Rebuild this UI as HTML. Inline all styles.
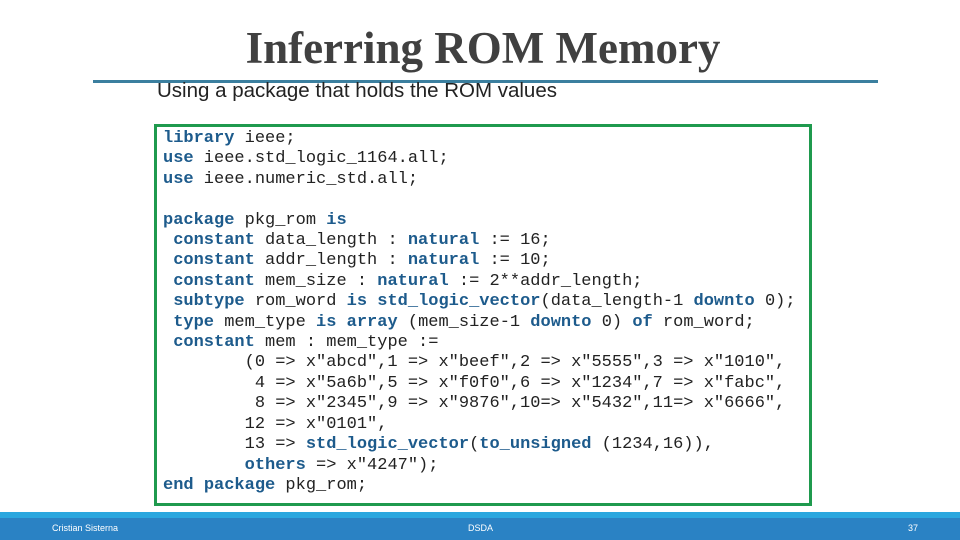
<!DOCTYPE html>
<html><head><meta charset="utf-8"><style>
body{margin:0;width:960px;height:540px;position:relative;background:#fff;overflow:hidden;font-family:"Liberation Sans",sans-serif}
.t{position:absolute;left:0;width:966px;top:20px;text-align:center;font:bold 45px "Liberation Serif",serif;color:#404040;line-height:56px}
.ln{position:absolute;left:93px;width:785px;top:80px;height:3px;background:#3b7f9f}
.sub{position:absolute;left:157px;top:78px;font-size:20.5px;color:#222;line-height:26px}
.box{position:absolute;left:154px;top:124px;width:652px;height:376px;border:3px solid #1f9a4e}
pre{position:absolute;left:163px;top:129px;margin:0;font:17px/20.4px "Liberation Mono",monospace;color:#222}
b{color:#1d5b8c}
.f1{position:absolute;left:0;top:512px;width:960px;height:6px;background:#2aa7df}
.f2{position:absolute;left:0;top:518px;width:960px;height:22px;background:#2a82c4;color:#fff;font-size:9px}
.f2 span{position:absolute;top:5px}
</style></head><body>
<div class="t">Inferring ROM Memory</div>
<div class="ln"></div>
<div class="sub">Using a package that holds the ROM values</div>
<div class="box"></div>
<pre><b>library</b> ieee;
<b>use</b> ieee.std_logic_1164.all;
<b>use</b> ieee.numeric_std.all;

<b>package</b> pkg_rom <b>is</b>
 <b>constant</b> data_length : <b>natural</b> := 16;
 <b>constant</b> addr_length : <b>natural</b> := 10;
 <b>constant</b> mem_size : <b>natural</b> := 2**addr_length;
 <b>subtype</b> rom_word <b>is</b> <b>std_logic_vector</b>(data_length-1 <b>downto</b> 0);
 <b>type</b> mem_type <b>is</b> <b>array</b> (mem_size-1 <b>downto</b> 0) <b>of</b> rom_word;
 <b>constant</b> mem : mem_type :=
        (0 =&gt; x"abcd",1 =&gt; x"beef",2 =&gt; x"5555",3 =&gt; x"1010",
         4 =&gt; x"5a6b",5 =&gt; x"f0f0",6 =&gt; x"1234",7 =&gt; x"fabc",
         8 =&gt; x"2345",9 =&gt; x"9876",10=&gt; x"5432",11=&gt; x"6666",
        12 =&gt; x"0101",
        13 =&gt; <b>std_logic_vector</b>(<b>to_unsigned</b> (1234,16)),
        <b>others</b> =&gt; x"4247");
<b>end</b> <b>package</b> pkg_rom;</pre>
<div class="f1"></div>
<div class="f2"><span style="left:52px">Cristian Sisterna</span><span style="left:468px">DSDA</span><span style="left:908px">37</span></div>
</body></html>
